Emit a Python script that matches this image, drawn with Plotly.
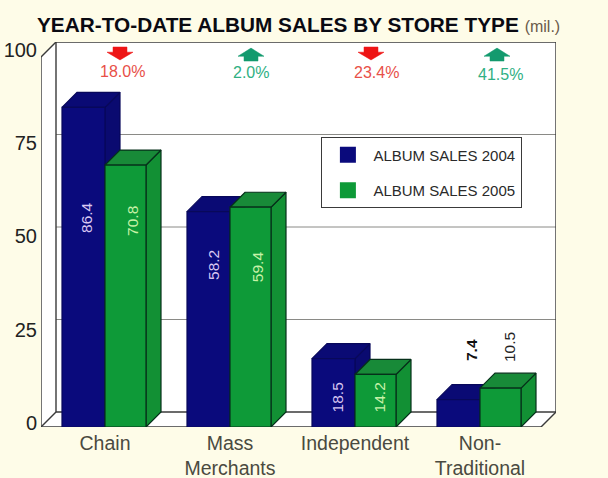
import plotly.graph_objects as go

# Album sales by store type, in millions
store_types = ["Chain", "Mass<br>Merchants", "Independent", "Non-<br>Traditional"]
sales_2004 = [86.4, 58.2, 18.5, 7.4]
sales_2005 = [70.8, 59.4, 14.2, 10.5]
change_labels = ["18.0%", "2.0%", "23.4%", "41.5%"]
change_up = [False, True, False, True]
value_ticks = [0, 25, 50, 75, 100]

# Pseudo-3D projection, in axis units
DEPTH_X = 0.12
DEPTH_Y = 4.05
X_MIN, X_MAX = -0.512, 3.608
Y_MAX = 100 + DEPTH_Y

NAVY, NAVY_SIDE, NAVY_TOP = "#0A0A7C", "#0A0A70", "#0A0A74"
GREEN, GREEN_SIDE, GREEN_TOP = "#0E9A38", "#129034", "#188A38"
BG = "#FEFCE8"
FONT = "Liberation Sans"

groups = list(range(len(store_types)))
fig = go.Figure()


def polygons(shapes, fill, line, width=1.2, name=""):
    xs, ys = [], []
    for s in shapes:
        xs += [p[0] for p in s] + [s[0][0], None]
        ys += [p[1] for p in s] + [s[0][1], None]
    fig.add_trace(go.Scatter(
        x=xs, y=ys, mode="lines", fill="toself", fillcolor=fill, name=name,
        line=dict(color=line, width=width), showlegend=False,
        hoverinfo="skip", cliponaxis=False,
    ))


def lines(segments, color, width):
    xs, ys = [], []
    for a, b in segments:
        xs += [a[0], b[0], None]
        ys += [a[1], b[1], None]
    fig.add_trace(go.Scatter(
        x=xs, y=ys, mode="lines", line=dict(color=color, width=width),
        showlegend=False, hoverinfo="skip", cliponaxis=False,
    ))


# White walls and floor of the box
xl, xr = X_MIN, X_MAX - DEPTH_X
polygons([[(xl, 0), (xl, 100), (xl + DEPTH_X, Y_MAX), (X_MAX, Y_MAX),
           (X_MAX, DEPTH_Y), (xr, 0)]], "#FFFFFF", "rgba(0,0,0,0)", 0)

# Gridlines along the back wall
lines([((xl + DEPTH_X, v + DEPTH_Y), (X_MAX, v + DEPTH_Y)) for v in value_ticks[1:-1]],
      "#8A8A86", 1)

# Box frame
lines([
    ((xl, 0), (xl, 100)), ((xl, 100), (xl + DEPTH_X, Y_MAX)),
    ((xl + DEPTH_X, DEPTH_Y), (xl + DEPTH_X, Y_MAX)),
    ((xl + DEPTH_X, Y_MAX), (X_MAX, Y_MAX)), ((X_MAX, Y_MAX), (X_MAX, DEPTH_Y)),
    ((xl, 0), (xl + DEPTH_X, DEPTH_Y)), ((xl + DEPTH_X, DEPTH_Y), (X_MAX, DEPTH_Y)),
    ((xl, 0), (xr, 0)), ((xr, 0), (X_MAX, DEPTH_Y)),
], "#3A3A3A", 1.4)


def draw_bars(values, left, width, front, side, top, edge, name):
    fronts, sides, tops = [], [], []
    for g, v in zip(groups, values):
        x0, x1 = g + left, g + left + width
        fronts.append([(x0, 0), (x0, v), (x1, v), (x1, 0)])
        tops.append([(x0, v), (x0 + DEPTH_X, v + DEPTH_Y),
                     (x1 + DEPTH_X, v + DEPTH_Y), (x1, v)])
        sides.append([(x1, 0), (x1, v), (x1 + DEPTH_X, v + DEPTH_Y),
                      (x1 + DEPTH_X, DEPTH_Y)])
    polygons(sides, side, edge, name=name + " side")
    polygons(tops, top, edge, name=name + " top")
    polygons(fronts, front, edge, name=name)


draw_bars(sales_2004, -0.344, 0.344, NAVY, NAVY_SIDE, NAVY_TOP, "#08085A", "Album sales 2004")
draw_bars(sales_2005, 0.0, 0.328, GREEN, GREEN_SIDE, GREEN_TOP, "#06301A", "Album sales 2005")

# Legend entries
for i, (label, color) in enumerate([("ALBUM SALES 2004", NAVY), ("ALBUM SALES 2005", GREEN)]):
    fig.add_trace(go.Scatter(
        x=[None], y=[None], mode="markers", name=label, legendgroup=str(i),
        marker=dict(symbol="square", size=16, color=color, line=dict(width=0)),
    ))

# Carries the value-axis labels, which sit slightly off the wall gridlines
fig.add_trace(go.Scatter(x=[None], y=[None], yaxis="y2", showlegend=False, hoverinfo="skip"))

# Year-over-year change arrows above each group
ARROW_CX = [0.12, 0.168, 0.128, 0.136]
HW_STEM, HW_HEAD = 0.056, 0.104
down_arrows, up_arrows = [], []
for g, cx, up in zip(groups, ARROW_CX, change_up):
    cx = g + cx
    if up:
        t, m, b = 102.4, 100.2, 98.9
        up_arrows.append([(cx, t), (cx + HW_HEAD, m), (cx + HW_STEM, m), (cx + HW_STEM, b),
                          (cx - HW_STEM, b), (cx - HW_STEM, m), (cx - HW_HEAD, m)])
    else:
        t, m, b = 102.7, 101.3, 99.2
        down_arrows.append([(cx - HW_STEM, t), (cx + HW_STEM, t), (cx + HW_STEM, m),
                            (cx + HW_HEAD, m), (cx, b), (cx - HW_HEAD, m), (cx - HW_STEM, m)])
polygons(down_arrows, "#EE1414", "#EE1414", 0.5, "Decrease")
polygons(up_arrows, "#139A6E", "#139A6E", 0.5, "Increase")

annotations = []

# Percentage change captions
CHANGE_X = [0.136, 0.168, 0.168, 0.16]
CHANGE_Y = [96.2, 95.7, 95.9, 95.4]
for g, cx, cy, text, up in zip(groups, CHANGE_X, CHANGE_Y, change_labels, change_up):
    annotations.append(dict(
        x=g + cx, y=cy, text=text, showarrow=False,
        font=dict(family=FONT, size=16, color="#2FB083" if up else "#E85048"),
    ))

# Rotated value labels on the bars
LABEL_H_2004 = [56.5, 43.8, 8.0, 20.8]
LABEL_H_2005 = [55.7, 43.2, 8.0, 21.6]
LABEL_X_2004 = [-0.144, -0.128, -0.144, -0.072]
LABEL_X_2005 = [0.224, 0.216, 0.192, 0.232]
for g in groups:
    dark = g == 3
    text_2004 = f"<b>{sales_2004[g]}</b>" if dark else f"{sales_2004[g]}"
    annotations.append(dict(
        x=g + LABEL_X_2004[g], y=LABEL_H_2004[g], text=text_2004, textangle=-90,
        showarrow=False,
        font=dict(family=FONT, size=15.5, color="#111111" if dark else "#D9C8F2"),
    ))
    annotations.append(dict(
        x=g + LABEL_X_2005[g], y=LABEL_H_2005[g], text=f"{sales_2005[g]}", textangle=-90,
        showarrow=False,
        font=dict(family=FONT, size=15.5, color="#222222" if dark else "#C8F2A8"),
    ))

fig.update_layout(
    width=608, height=478, autosize=False,
    margin=dict(l=41, r=52, t=42, b=51, pad=0),
    paper_bgcolor=BG, plot_bgcolor=BG,
    font=dict(family=FONT),
    title=dict(
        text="<b>YEAR-TO-DATE ALBUM SALES BY STORE TYPE</b> "
             "<span style='font-size:16px;color:#6A5A4A'>(mil.)</span>",
        x=37 / 608, xanchor="left", xref="container", y=1 - 25 / 478, yanchor="middle",
        automargin=False,
        font=dict(family=FONT, size=20.8, color="#0A0A12"),
    ),
    xaxis=dict(
        range=[X_MIN, X_MAX], tickmode="array", tickvals=groups, ticktext=store_types,
        showgrid=False, zeroline=False, showline=False, ticks="", automargin=False,
        ticklabelstandoff=2,
        tickfont=dict(family=FONT, size=19.5, color="#4A4A40"), tickangle=0,
    ),
    yaxis=dict(range=[0, Y_MAX], showgrid=False, zeroline=False, showline=False,
               showticklabels=False, ticks="", automargin=False),
    yaxis2=dict(
        range=[-1.07, 102.1], overlaying="y", side="left", tickmode="array",
        tickvals=value_ticks, showgrid=False, zeroline=False, showline=False, ticks="",
        automargin=False,
        ticklabelstandoff=3, tickfont=dict(family=FONT, size=20, color="#222222"),
    ),
    legend=dict(
        x=(321 - 41) / 515, xanchor="left",
        y=(427 - 137) / 385, yanchor="top",
        bgcolor="#FFFFFF", bordercolor="#3A3A3A", borderwidth=1.4,
        font=dict(family=FONT, size=15, color="#2A2A2A"),
        itemwidth=41, tracegroupgap=13, traceorder="grouped",
        entrywidth=165, entrywidthmode="pixels",
        itemclick=False, itemdoubleclick=False,
    ),
    annotations=annotations,
    showlegend=True,
)

fig.write_html("out.html")
